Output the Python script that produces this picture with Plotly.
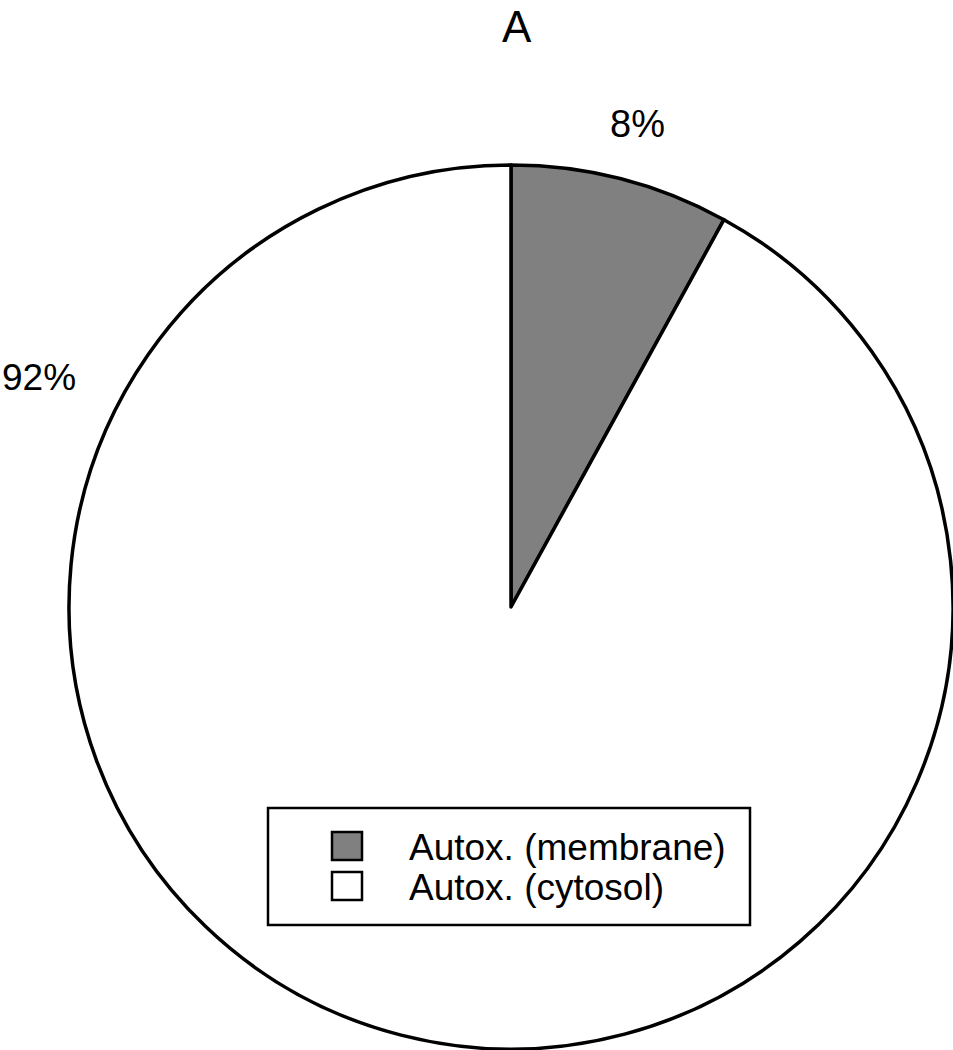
import plotly.graph_objects as go

labels = ["Autox. (membrane)", "Autox. (cytosol)"]
values = [8, 92]
colors = ["#808080", "#ffffff"]
title_text = "A"

W, H = 953, 1050
FONT = "Liberation Sans, Arial, sans-serif"

def px(x):
    return x / W

def py(y):
    return 1 - y / H

fig = go.Figure()
fig.add_trace(go.Pie(
    labels=labels,
    values=values,
    sort=False,
    direction="clockwise",
    rotation=0,
    marker=dict(colors=colors, line=dict(color="black", width=3.5)),
    textinfo="none",
    hoverinfo="label+percent",
    showlegend=False,
    domain=dict(x=[0.0724, 1.0], y=[0.0, 0.8438]),
))

total = sum(values)
pct = [f"{round(v / total * 100)}%" for v in values]

annotations = [
    dict(x=px(637), y=py(124), xref="paper", yref="paper",
         text=pct[0], showarrow=False, xanchor="center", yanchor="middle",
         font=dict(family=FONT, size=38, color="black")),
    dict(x=0.0, y=py(377), xref="paper", yref="paper",
         text=pct[1], showarrow=False, xanchor="left", yanchor="middle",
         font=dict(family=FONT, size=37, color="black")),
    dict(x=px(517), y=1.0, xref="paper", yref="paper",
         text=title_text, showarrow=False, xanchor="center", yanchor="top",
         font=dict(family=FONT, size=44, color="black")),
]

shapes = [dict(type="rect", xref="paper", yref="paper",
               x0=px(268), x1=px(750), y0=py(808), y1=py(925),
               line=dict(color="black", width=2.5), fillcolor="white", layer="above")]
legend_rows = [846, 886]
for lab, col, yc in zip(labels, colors, legend_rows):
    shapes.append(dict(type="rect", xref="paper", yref="paper",
                       x0=px(332), x1=px(362), y0=py(yc - 14), y1=py(yc + 14),
                       line=dict(color="black", width=2.5), fillcolor=col, layer="above"))
    annotations.append(dict(x=px(407), y=py(yc + 1), xref="paper", yref="paper",
                            text=lab, showarrow=False, xanchor="left", yanchor="middle",
                            font=dict(family=FONT, size=37, color="black")))

fig.update_layout(
    width=W, height=H,
    margin=dict(l=0, r=0, t=0, b=0),
    paper_bgcolor="white",
    plot_bgcolor="white",
    annotations=annotations,
    shapes=shapes,
)

fig.write_html("out.html", config={"displayModeBar": False},
               post_script="document.body.style.margin='0px';")
